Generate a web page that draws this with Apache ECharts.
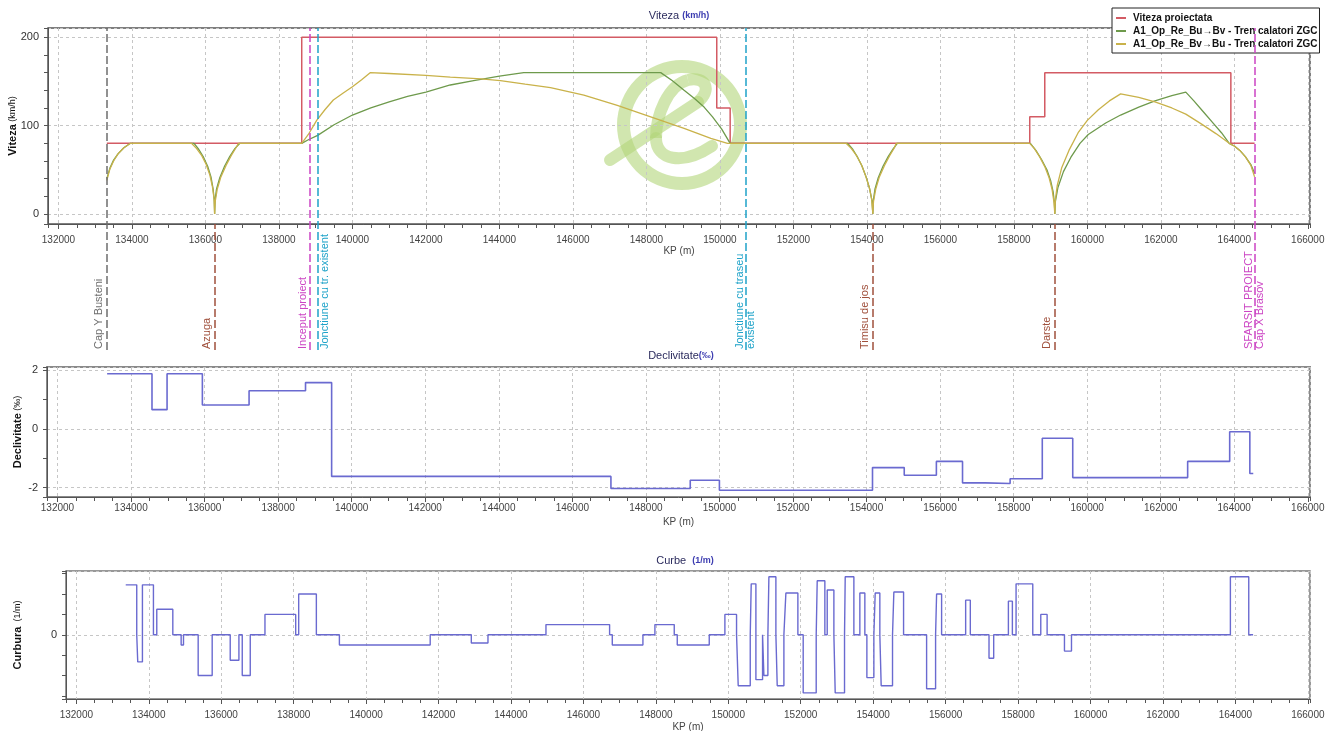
<!DOCTYPE html>
<html lang="ro">
<head>
<meta charset="UTF-8">
<title>Viteza / Declivitate / Curbe</title>
<script src="https://cdn.jsdelivr.net/npm/echarts@6/dist/echarts.min.js"></script>
<style>
    html, body { margin: 0; padding: 0; background: #fff; }
    #chart { width: 1330px; height: 731px; }
</style>
</head>
<body>
<div id="chart"></div>
<script>
    // Domeniu KP comun celor trei grafice
    const KP_MIN = 131715;
    const KP_MAX = 166060;

    // Viteza proiectata (trepte, valoarea tine pana la urmatorul punct)
    const vitezaProiectata = [
        [133316, 80], [138620, 200], [149915, 120], [150280, 80],
        [158433, 110], [158842, 160], [163906, 80], [164552, 80]
    ];

    // A1_Op_Re_Bu->Bv (sens crescator KP)
    const vitezaBuBv = [
        [133316, 40], [133400, 52], [133500, 61], [133620, 68], [133780, 75], [133955, 80],
        [135690, 80], [135820, 73], [135950, 64], [136060, 54], [136150, 42], [136210, 28], [136240, 15], [136250, 0],
        [136262, 16], [136300, 28], [136390, 41], [136520, 54], [136660, 65], [136800, 74], [136936, 80],
        [138620, 80], [138800, 84], [139054, 89], [139500, 101], [140000, 112], [140500, 120], [141000, 127],
        [141500, 133], [142000, 138], [142663, 146], [143300, 151], [144000, 156], [144662, 160],
        [148390, 160], [148700, 151], [149026, 140], [149300, 131], [149570, 121], [149800, 110], [150050, 96], [150280, 80],
        [153480, 80], [153620, 73], [153750, 64], [153870, 54], [153980, 42], [154080, 28], [154140, 15], [154163, 0],
        [154178, 16], [154220, 28], [154310, 41], [154440, 54], [154580, 65], [154720, 74], [154830, 80],
        [158450, 80], [158600, 72], [158750, 62], [158900, 50], [159000, 38], [159070, 25], [159105, 12], [159116, 0],
        [159130, 14], [159200, 30], [159350, 48], [159550, 64], [159800, 80], [160025, 90], [160500, 103], [160906, 112],
        [161400, 121], [161840, 128], [162300, 134], [162680, 138],
        [162900, 128], [163150, 116], [163400, 104], [163650, 92], [163862, 80],
        [164000, 77], [164150, 72], [164300, 65], [164450, 56], [164552, 46]
    ];

    // A1_Op_Re_Bv->Bu (sens descrescator KP)
    const vitezaBvBu = [
        [133316, 38], [133400, 51], [133500, 60], [133620, 68], [133780, 75], [133960, 80],
        [135620, 80], [135760, 74], [135900, 66], [136020, 56], [136120, 44], [136190, 31], [136235, 17], [136250, 0],
        [136265, 14], [136320, 28], [136420, 42], [136560, 55], [136700, 66], [136830, 75], [136900, 80],
        [138620, 80], [138800, 90], [139027, 106], [139250, 118], [139480, 129], [139750, 137], [140000, 144],
        [140250, 152], [140482, 160],
        [141000, 159], [142000, 157], [142663, 155], [143500, 153], [144026, 151], [144700, 147], [145390, 143],
        [146298, 134.5], [147208, 123], [148117, 110], [149026, 97], [149754, 85.7], [150208, 80],
        [153436, 80], [153580, 74], [153720, 66], [153850, 56], [153960, 44], [154060, 31], [154130, 17], [154163, 0],
        [154180, 14], [154240, 28], [154340, 42], [154480, 55], [154620, 66], [154750, 75], [154800, 80],
        [158433, 80], [158560, 74], [158700, 65], [158850, 53], [158960, 41], [159040, 28], [159090, 14], [159116, 0],
        [159130, 16], [159180, 32], [159300, 52], [159500, 72], [159750, 92], [160000, 106], [160300, 118],
        [160600, 128], [160906, 136],
        [161400, 132], [161840, 127], [162300, 120], [162680, 113], [163100, 102], [163500, 91], [163862, 80],
        [164000, 77], [164150, 72], [164300, 65], [164450, 55], [164552, 42]
    ];

    // Declivitate (‰), trepte
    const declivitate = [
        [133350, 1.87], [134570, 0.65], [134980, 1.87], [135940, 0.81], [137210, 1.29], [138745, 1.57],
        [139455, -1.62], [147050, -2.03], [149207, -1.75], [150000, -2.09], [154163, -1.32], [155026, -1.58],
        [155900, -1.11], [156611, -1.84], [157229, -1.86], [157905, -1.70], [158780, -0.32], [159608, -1.66],
        [162733, -1.11], [163876, -0.10], [164424, -1.52], [164517, -1.52]
    ];

    // Curbura (1/m), trepte
    const curbura = [
        [133364, 0.00245], [133668, 0], [133696, -0.00133], [133825, 0.00245], [134129, 0], [134221, 0.00125],
        [134664, 0], [134894, -0.0005], [134959, 0], [135364, -0.002], [135751, 0], [136249, -0.00125],
        [136489, 0], [136581, -0.002], [136802, 0], [137208, 0.001], [138056, 0], [138139, 0.002],
        [138627, 0], [139263, -0.0005], [141770, 0], [142905, -0.0004], [143365, 0], [144966, 0.0005],
        [146723, 0], [146797, -0.0005], [147643, 0], [147974, 0.0005], [148508, 0], [148591, -0.0005],
        [149474, 0], [149906, 0.001], [150228, 0], [150274, -0.0025], [150606, 0], [150633, 0.0025],
        [150762, -0.0022], [150946, 0], [150983, -0.002], [151093, 0], [151121, 0.00285], [151314, 0],
        [151351, -0.0025], [151535, 0], [151590, 0.00205], [151921, 0], [152068, -0.00285], [152427, 0],
        [152455, 0.00265], [152666, 0], [152731, 0.0022], [152915, 0], [152952, -0.00285], [153209, 0],
        [153228, 0.00285], [153467, 0], [153632, 0.00205], [153770, 0], [153826, -0.0021], [154019, 0],
        [154056, 0.00205], [154184, 0], [154221, -0.0025], [154534, 0], [154571, 0.0021], [154839, 0],
        [155475, -0.00265], [155723, 0], [155751, 0.002], [155889, 0], [156553, 0.0017], [156682, 0],
        [157198, -0.00115], [157327, 0], [157733, 0.00165], [157843, 0], [157945, 0.0025], [158406, 0],
        [158627, 0.001], [158802, 0], [159281, -0.0008], [159475, 0], [163862, 0.00285], [164369, 0],
        [164489, 0]
    ];

    // Repere pe traseu
    const reperNume = ['Cap Y Busteni', 'Azuga', 'Inceput proiect', 'Jonctiune cu tr. existent',
        'Jonctiune cu traseu\nexistent', 'Timisu de jos', 'Darste', 'SFARSIT PROIECT\nCap X Brasov'];
    const reperKP = [133316, 136250, 138845, 139055, 150700, 154163, 159116, 164552];
    const reperTip = ['cap', 'statie', 'proiect', 'jonctiune', 'jonctiune', 'statie', 'statie', 'proiect'];

    const stilReper = {
        cap: { color: '#6e6e6e', sus: 322 },
        statie: { color: '#a0503c', sus: 126 },
        proiect: { color: '#cc44c4', sus: 322 },
        jonctiune: { color: '#1fa3c9', sus: 322 }
    };
    // eticheta asezata in dreapta liniei (ca sa nu se suprapuna cu vecina)
    const etichetaDreapta = ['Jonctiune cu tr. existent'];

    const FONT = '"Liberation Sans", "DejaVu Sans", Arial, sans-serif';
    const GRID_LINE = { color: '#c6c6c6', type: [3, 3], width: 1 };
    const WATERMARK = 'rgba(178,214,122,0.6)';

    function doarValori(valori) {
        return v => {
            const t = valori.find(x => Math.abs(v - x) < 1e-9);
            return t === undefined ? '' : String(t);
        };
    }

    function axeX(g, margine, numeGap) {
        return [{
            type: 'value', gridIndex: g, min: KP_MIN, max: KP_MAX, splitNumber: 17, position: 'bottom',
            axisLine: { show: true, onZero: false, lineStyle: { color: '#555' } },
            axisTick: { show: true, length: 5, lineStyle: { color: '#555' } },
            axisLabel: { color: '#444', fontSize: 10, margin: margine, showMinLabel: false, showMaxLabel: false,
                formatter: v => (v % 2000 === 0 ? String(v) : '') },
            splitLine: { show: true, lineStyle: GRID_LINE },
            name: 'KP (m)', nameLocation: 'middle', nameGap: numeGap, nameMoveOverlap: false,
            nameTextStyle: { color: '#444', fontSize: 10 }
        }, {
            type: 'value', gridIndex: g, min: KP_MIN, max: KP_MAX, splitNumber: 68, position: 'bottom',
            axisLine: { show: false, onZero: false },
            axisTick: { show: true, length: 4, lineStyle: { color: '#555' } },
            axisLabel: { show: false }, splitLine: { show: false }
        }];
    }

    function axeY(g, min, max, splitMare, splitMic, etichete, nume, numeGap) {
        return [{
            type: 'value', gridIndex: g, min: min, max: max, splitNumber: splitMare, position: 'left',
            axisLine: { show: true, onZero: false, lineStyle: { color: '#555' } },
            axisTick: { show: false },
            axisLabel: { color: '#333', fontSize: 11, margin: 9, showMinLabel: false, showMaxLabel: false,
                formatter: doarValori(etichete) },
            splitLine: { show: true, lineStyle: GRID_LINE },
            name: nume, nameLocation: 'middle', nameGap: numeGap, nameRotate: 90, nameMoveOverlap: false,
            nameTextStyle: { color: '#111', fontSize: 9, rich: { b: { fontSize: 11, fontWeight: 'bold', color: '#111' } } }
        }, {
            type: 'value', gridIndex: g, min: min, max: max, splitNumber: splitMic, position: 'left',
            axisLine: { show: false, onZero: false },
            axisTick: { show: true, length: 4, lineStyle: { color: '#555' } },
            axisLabel: { show: false }, splitLine: { show: false }
        }];
    }

    const titluStil = {
        fontSize: 11, color: '#2c2c5e', fontWeight: 'normal', fontFamily: FONT,
        rich: { u: { fontSize: 9, color: '#3b3bb0', fontWeight: 'bold' } }
    };

    const liniiReper = reperKP.map((kp, i) => {
        const s = stilReper[reperTip[i]];
        const nume = reperNume[i];
        let pozitie = 'insideStartTop';
        if (nume.indexOf('\n') >= 0) pozitie = 'insideStart';
        else if (etichetaDreapta.indexOf(nume) >= 0) pozitie = 'insideStartBottom';
        return [{
            name: nume, coord: [kp, 0],
            lineStyle: { color: s.color, type: [8, 3], width: 1.5 },
            label: { show: true, formatter: '{b}', position: pozitie,
                color: s.color, fontSize: 11, fontFamily: FONT, lineHeight: 11, distance: [1, 2] }
        }, { coord: [kp, s.sus] }];
    });

    const chart = echarts.init(document.getElementById('chart'));

    chart.setOption({
        animation: false,
        textStyle: { fontFamily: FONT },
        title: [
            { text: 'Viteza {u|(km/h)}', left: 679, top: 10, padding: 0, textAlign: 'center', textStyle: titluStil },
            { text: 'Declivitate{u|(‰)}', left: 681, top: 350, padding: 0, textAlign: 'center', textStyle: titluStil },
            { text: 'Curbe  {u|(1/m)}', left: 685, top: 555, padding: 0, textAlign: 'center', textStyle: titluStil }
        ],
        legend: {
            data: ['Viteza proiectata', 'A1_Op_Re_Bu→Bv - Tren calatori ZGC', 'A1_Op_Re_Bv→Bu - Tren calatori ZGC'],
            orient: 'vertical', left: 1112, top: 8, padding: [5, 2, 4, 4],
            backgroundColor: '#fff', borderColor: '#222', borderWidth: 1,
            icon: 'rect', itemWidth: 10, itemHeight: 2, itemGap: 3,
            textStyle: { fontSize: 10, fontWeight: 'bold', color: '#111', padding: [0, 0, 0, 2] }
        },
        graphic: [
            { type: 'ring', silent: true, z: -1, shape: { cx: 682, cy: 125, r: 65, r0: 52 },
              style: { fill: WATERMARK } },
            { type: 'line', silent: true, z: -1, shape: { x1: 610, y1: 160, x2: 698, y2: 102 },
              style: { stroke: WATERMARK, lineWidth: 12, lineCap: 'round' } },
            { type: 'bezierCurve', silent: true, z: -1,
              shape: { x1: 698, y1: 102, cpx1: 712, cpy1: 90, cpx2: 706, cpy2: 76, x2: 688, y2: 80 },
              style: { stroke: WATERMARK, lineWidth: 12, fill: 'none' } },
            { type: 'bezierCurve', silent: true, z: -1,
              shape: { x1: 688, y1: 80, cpx1: 668, cpy1: 85, cpx2: 656, cpy2: 115, x2: 656, y2: 138 },
              style: { stroke: WATERMARK, lineWidth: 12, fill: 'none' } },
            { type: 'bezierCurve', silent: true, z: -1,
              shape: { x1: 656, y1: 138, cpx1: 656, cpy1: 160, cpx2: 682, cpy2: 166, x2: 712, y2: 146 },
              style: { stroke: WATERMARK, lineWidth: 12, fill: 'none', lineCap: 'round' } }
        ],
        grid: [
            { left: 48, top: 28, width: 1262, height: 196, show: true, borderColor: '#555', borderWidth: 1.5,
              outerBoundsMode: 'none', containLabel: false },
            { left: 47, top: 367, width: 1263, height: 130, show: true, borderColor: '#8a8a8a', borderWidth: 2,
              outerBoundsMode: 'none', containLabel: false },
            { left: 66, top: 571, width: 1244, height: 128, show: true, borderColor: '#777', borderWidth: 1.5,
              outerBoundsMode: 'none', containLabel: false },
            { left: 48, top: 28, width: 1262, height: 322, outerBoundsMode: 'none', containLabel: false }
        ],
        xAxis: [
            ...axeX(0, 11, 22),
            ...axeX(1, 6, 20),
            ...axeX(2, 11, 23),
            { type: 'value', gridIndex: 3, min: KP_MIN, max: KP_MAX, show: false }
        ],
        yAxis: [
            ...axeY(0, -11.3, 210.5, 2, 10, [0, 100, 200], '{b|Viteza} (km/h)', 30),
            ...axeY(1, -2.32, 2.1, 2, 4, [-2, 0, 2], '{b|Declivitate} (‰)', 24),
            ...axeY(2, -0.00315, 0.00313, 1, 6, [0], '{b|Curbura}  (1/m)', 43),
            { type: 'value', gridIndex: 3, min: 0, max: 322, show: false }
        ],
        series: [
            { name: 'Viteza proiectata', type: 'line', xAxisIndex: 0, yAxisIndex: 0, step: 'end',
              data: vitezaProiectata, showSymbol: false, symbol: 'none', color: '#d35b64',
              lineStyle: { width: 1.5 } },
            { name: 'A1_Op_Re_Bu→Bv - Tren calatori ZGC', type: 'line', xAxisIndex: 0, yAxisIndex: 0,
              data: vitezaBuBv, showSymbol: false, symbol: 'none', color: '#6e9a4c',
              lineStyle: { width: 1.3 } },
            { name: 'A1_Op_Re_Bv→Bu - Tren calatori ZGC', type: 'line', xAxisIndex: 0, yAxisIndex: 0,
              data: vitezaBvBu, showSymbol: false, symbol: 'none', color: '#c9b24a',
              lineStyle: { width: 1.3 } },
            { name: 'Declivitate', type: 'line', xAxisIndex: 2, yAxisIndex: 2, step: 'end',
              data: declivitate, showSymbol: false, symbol: 'none', color: '#6a6ad0',
              lineStyle: { width: 1.6 } },
            { name: 'Curbura', type: 'line', xAxisIndex: 4, yAxisIndex: 4, step: 'end',
              data: curbura, showSymbol: false, symbol: 'none', color: '#6a6ad0',
              lineStyle: { width: 1.4 } },
            { name: 'Repere', type: 'scatter', xAxisIndex: 6, yAxisIndex: 6, data: [], z: 3,
              markLine: { silent: true, symbol: ['none', 'none'], animation: false, data: liniiReper } }
        ]
    });
</script>
</body>
</html>
